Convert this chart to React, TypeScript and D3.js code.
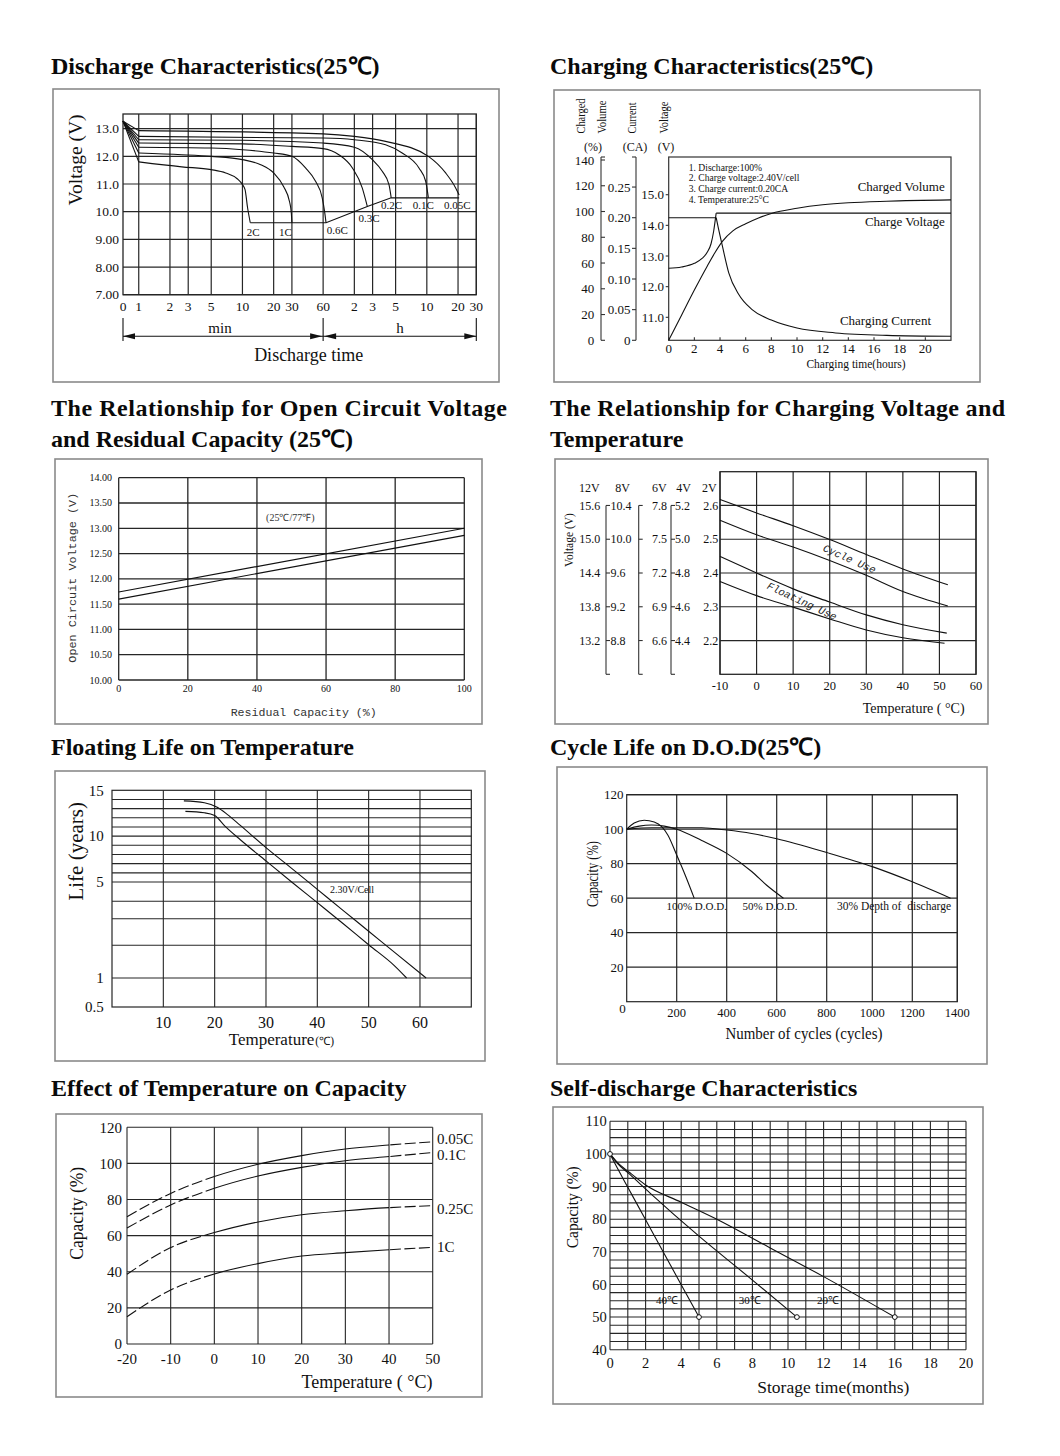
import React from 'react';
import * as d3 from 'd3';

type Pt = [number, number];

const SERIF = '"Liberation Serif", "Times New Roman", serif';
const MONO = '"Liberation Mono", "DejaVu Sans Mono", monospace';
const INK = '#111';
const GRID = '#262626';
const FRAME = '#8a8a8a';
const CURVE = '#111';

// ---------------- Titles ----------------
const titleDischarge = 'Discharge Characteristics(25℃)';
const titleCharging = 'Charging Characteristics(25℃)';
const titleOcv = ['The Relationship for Open Circuit Voltage', 'and Residual Capacity (25℃)'];
const titleChargeVolt = ['The Relationship for Charging Voltage and', 'Temperature'];
const titleFloat = 'Floating Life on Temperature';
const titleCycle = 'Cycle Life on D.O.D(25℃)';
const titleTempCap = 'Effect of Temperature on Capacity';
const titleSelf = 'Self-discharge Characteristics';

// ---------------- 1. Discharge ----------------
const dischargeTickMinutes = [0, 1, 2, 3, 5, 10, 20, 30, 60, 120, 180, 300, 600, 1200, 1800];
const dischargeTickLabels = ['0', '1', '2', '3', '5', '10', '20', '30', '60', '2', '3', '5', '10', '20', '30'];
const dischargeVoltTicks = [13, 12, 11, 10, 9, 8, 7];
const dischargeVoltLabels = ['13.0', '12.0', '11.0', '10.0', '9.00', '8.00', '7.00'];
const dischargeRates = ['2C', '1C', '0.6C', '0.3C', '0.2C', '0.1C', '0.05C'];
const discharge2C: Pt[] = [[0, 13.27], [1, 11.8], [2.6, 11.62], [5, 11.52], [6.9, 11.4], [8.9, 11.19], [10, 10.98], [10.6, 10.8], [11.2, 10.15], [11.9, 9.6]];
const discharge1C: Pt[] = [[0, 13.27], [1, 12.12], [2.6, 12.06], [5, 12.0], [10, 11.88], [15, 11.7], [20, 11.4], [25, 10.9], [28.5, 10.35], [29.6, 9.95], [30, 9.6]];
const discharge06C: Pt[] = [[0, 13.27], [1, 12.33], [5, 12.3], [10, 12.24], [20, 12.12], [30, 12.0], [40.6, 11.58], [50.7, 11.1], [58.8, 10.5], [62, 10.0], [64, 9.6]];
const discharge03C: Pt[] = [[0, 13.27], [1, 12.48], [10, 12.45], [30, 12.36], [60, 12.28], [85, 12.06], [115, 11.58], [143, 10.86], [160, 10.19]];
const discharge02C: Pt[] = [[0, 13.27], [1, 12.6], [10, 12.58], [60, 12.48], [120, 12.33], [179, 11.88], [223, 11.46], [259, 10.98], [272, 10.5]];
const discharge01C: Pt[] = [[0, 13.27], [1, 12.72], [60, 12.66], [120, 12.6], [240, 12.42], [347, 12.12], [504, 11.58], [585, 11.1], [621, 10.5]];
const discharge005C: Pt[] = [[0, 13.27], [1, 12.93], [60, 12.81], [120, 12.72], [240, 12.54], [621, 12.0], [911, 11.4], [1138, 10.86], [1230, 10.6]];
const dischargeEndLine: Pt[] = [[11.9, 9.6], [64, 9.6], [160, 10.19], [272, 10.5], [1230, 10.5]];

// ---------------- 2. Charging ----------------
const chargeHeaders = ['Charged', 'Volume', 'Current', 'Voltage'];
const chargeUnits = ['(%)', '(CA)', '(V)'];
const chargeHourTicks = [0, 2, 4, 6, 8, 10, 12, 14, 16, 18, 20];
const chargePctTicks = [0, 20, 40, 60, 80, 100, 120, 140];
const chargeCATicks = [0, 0.05, 0.1, 0.15, 0.2, 0.25];
const chargeCALabels = ['0', '0.05', '0.10', '0.15', '0.20', '0.25'];
const chargeVTicks = [11, 12, 13, 14, 15];
const chargeVLabels = ['11.0', '12.0', '13.0', '14.0', '15.0'];
const chargeNotes = ['1. Discharge:100%', '2. Charge voltage:2.40V/cell', '3. Charge current:0.20CA', '4. Temperature:25°C'];
const chargeSeriesNames = ['Charged Volume', 'Charge Voltage', 'Charging Current'];
const chargeVoltageRise: Pt[] = [[0, 12.6], [1, 12.64], [2, 12.76], [2.6, 12.92], [3, 13.12], [3.3, 13.4], [3.5, 13.8], [3.7, 14.4]];
const chargeVoltageHold: Pt[] = [[3.7, 14.4], [22, 14.4]];
const chargeCurrentHold: Pt[] = [[0, 0.2], [3.7, 0.2]];
const chargeCurrentDecay: Pt[] = [[3.7, 0.2], [3.85, 0.185], [4.16, 0.156], [4.68, 0.11], [5.45, 0.075], [6.5, 0.05], [8, 0.033], [10, 0.02], [13, 0.012], [17, 0.008], [22, 0.0065]];
const chargedVolume: Pt[] = [[0, 0], [1, 19.5], [2, 39], [3, 57.5], [3.6, 68], [4.2, 77], [5, 85], [6, 90.5], [7, 95], [8, 98.5], [10, 102.5], [12, 105.2], [14, 106.8], [17, 108], [22, 109]];

// ---------------- 3. Open circuit voltage ----------------
const ocvCapTicks = [0, 20, 40, 60, 80, 100];
const ocvVoltTicks = [10, 10.5, 11, 11.5, 12, 12.5, 13, 13.5, 14];
const ocvVoltLabels = ['10.00', '10.50', '11.00', '11.50', '12.00', '12.50', '13.00', '13.50', '14.00'];
const ocvUpper: Pt[] = [[0, 11.74], [100, 13.0]];
const ocvLower: Pt[] = [[0, 11.6], [100, 12.86]];

// ---------------- 4. Charging voltage vs temperature ----------------
const cvTempTicks = [-10, 0, 10, 20, 30, 40, 50, 60];
const cvCellTicks = [2.6, 2.5, 2.4, 2.3, 2.2];
const cvHeaders = ['12V', '8V', '6V', '4V', '2V'];
const cvLabels12 = ['15.6', '15.0', '14.4', '13.8', '13.2'];
const cvLabels8 = ['10.4', '10.0', '9.6', '9.2', '8.8'];
const cvLabels6 = ['7.8', '7.5', '7.2', '6.9', '6.6'];
const cvLabels4 = ['5.2', '5.0', '4.8', '4.6', '4.4'];
const cvLabels2 = ['2.6', '2.5', '2.4', '2.3', '2.2'];
const cycleUseUpper: Pt[] = [[-10, 2.618], [0, 2.578], [10, 2.54], [20, 2.499], [30, 2.455], [40, 2.412], [52.3, 2.365]];
const cycleUseLower: Pt[] = [[-10, 2.556], [0, 2.513], [10, 2.477], [20, 2.437], [30, 2.393], [40, 2.345], [52.3, 2.302]];
const floatUseUpper: Pt[] = [[-10, 2.449], [0, 2.4], [10, 2.353], [20, 2.314], [30, 2.276], [40, 2.247], [52, 2.222]];
const floatUseLower: Pt[] = [[-10, 2.375], [0, 2.333], [10, 2.299], [20, 2.264], [30, 2.231], [40, 2.208], [51.4, 2.192]];

// ---------------- 5. Floating life ----------------
const lifeTempTicks = [10, 20, 30, 40, 50, 60];
const lifeYearGrid = [1, 2, 3, 4, 5, 6, 7, 8, 9, 10, 11, 12, 13, 14];
const lifeYearLabels = [15, 10, 5, 1, 0.5];
const lifeUpper: Pt[] = [[14, 13.85], [18, 13.65], [20.5, 13.15], [22.5, 12.35], [25, 11.17], [30, 8.75], [35, 6.49], [40, 4.62], [45, 3.48], [50, 2.53], [55, 1.79], [61.2, 1.0]];
const lifeLower: Pt[] = [[14.3, 12.7], [18, 12.55], [20, 12.25], [22, 11.1], [25, 9.61], [30, 7.3], [35, 5.0], [40, 3.92], [45, 2.82], [50, 2.02], [55, 1.38], [57.4, 1.0]];

// ---------------- 6. Cycle life ----------------
const cycleTicks = [200, 400, 600, 800, 1000, 1200, 1400];
const cycleCapTicks = [20, 40, 60, 80, 100, 120];
const cycleSeriesNames = ['100% D.O.D.', '50% D.O.D.', '30% Depth of  discharge'];
const dod100: Pt[] = [[0, 100], [30, 103.6], [70, 105.2], [110, 104.2], [140, 101.5], [165, 96.5], [200, 85], [235, 73], [270, 60]];
const dod50: Pt[] = [[0, 100], [50, 101.8], [100, 102.4], [150, 101.8], [200, 100], [300, 93.5], [400, 86], [500, 75.5], [560, 67.5], [627, 60]];
const dod30: Pt[] = [[0, 100], [100, 100.8], [300, 100.8], [400, 99.5], [500, 97.5], [600, 94.5], [800, 86.5], [1000, 78.3], [1200, 69.5], [1370, 60]];

// ---------------- 7. Temperature vs capacity ----------------
const tcTempTicks = [-20, -10, 0, 10, 20, 30, 40, 50];
const tcCapTicks = [0, 20, 40, 60, 80, 100, 120];
const tcRates = ['0.05C', '0.1C', '0.25C', '1C'];
const tc005C: Pt[] = [[-20, 70.5], [-10, 83.4], [0, 92.7], [10, 99.5], [20, 104.3], [30, 108], [40, 110.2], [50, 112]];
const tc01C: Pt[] = [[-20, 64.2], [-10, 77], [0, 86.2], [10, 93], [20, 97.8], [30, 101.5], [40, 103.8], [50, 106]];
const tc025C: Pt[] = [[-20, 38.6], [-10, 53.4], [0, 61.7], [10, 67.6], [20, 71.6], [30, 73.8], [40, 75.5], [50, 76.6]];
const tc1C: Pt[] = [[-20, 15.1], [-10, 29.9], [0, 38.8], [10, 44.5], [20, 48.7], [30, 50.6], [40, 52.2], [50, 53.5]];

// ---------------- 8. Self-discharge ----------------
const selfMonthTicks = [0, 2, 4, 6, 8, 10, 12, 14, 16, 18, 20];
const selfCapTicks = [40, 50, 60, 70, 80, 90, 100, 110];
const selfTemps = ['40℃', '30℃', '20℃'];
const self40: Pt[] = [[0, 100], [0.3, 96.8], [1, 89.8], [2, 79.8], [3, 69.9], [4, 59.9], [5, 50]];
const self30: Pt[] = [[0, 100], [0.4, 97.2], [1.1, 93.8], [2.25, 88], [5, 74.8], [7.9, 61.8], [10.5, 50]];
const self20: Pt[] = [[0, 100], [0.4, 97.5], [1.1, 94.3], [2, 90.5], [4, 85.2], [6, 80], [9, 71.2], [12, 62.4], [16, 50]];

// ---------------- helpers ----------------
const T = (p: any) => <text fontFamily={SERIF} fill={INK} {...p} />;

const RText = ({ x, y, size, children, family = SERIF, len, fill = INK }: any) => (
  <text
    transform={`translate(${x},${y}) rotate(-90)`}
    textAnchor="middle"
    dy="0.35em"
    fontFamily={family}
    fontSize={size}
    fill={fill}
    textLength={len}
    lengthAdjust={len ? 'spacingAndGlyphs' : undefined}
  >
    {children}
  </text>
);

const Frame = ({ x1, y1, x2, y2 }: any) => (
  <rect x={x1} y={y1} width={x2 - x1} height={y2 - y1} fill="none" stroke={FRAME} strokeWidth={1.6} />
);

const HLine = ({ y, x1, x2, w = 1.2, c = GRID }: any) => <line x1={x1} x2={x2} y1={y} y2={y} stroke={c} strokeWidth={w} />;
const VLine = ({ x, y1, y2, w = 1.2, c = GRID }: any) => <line x1={x} x2={x} y1={y1} y2={y2} stroke={c} strokeWidth={w} />;

function mkLine(X: any, Y: any, curve: any = d3.curveLinear) {
  return d3.line<Pt>().x((d) => X(d[0])).y((d) => Y(d[1])).curve(curve);
}

// ---------------- Titles ----------------
function Titles() {
  const st = { fontFamily: SERIF, fontWeight: 700, fontSize: 24, fill: '#0a0a0a' } as any;
  return (
    <g>
      <text x={51} y={74} {...st}>{titleDischarge}</text>
      <text x={550} y={74} {...st}>{titleCharging}</text>
      <text x={51} y={416} {...st} textLength={456} lengthAdjust="spacing">{titleOcv[0]}</text>
      <text x={51} y={447} {...st}>{titleOcv[1]}</text>
      <text x={550} y={416} {...st} textLength={455} lengthAdjust="spacing">{titleChargeVolt[0]}</text>
      <text x={550} y={447} {...st}>{titleChargeVolt[1]}</text>
      <text x={51} y={755} {...st}>{titleFloat}</text>
      <text x={550} y={755} {...st}>{titleCycle}</text>
      <text x={51} y={1096} {...st}>{titleTempCap}</text>
      <text x={550} y={1096} {...st}>{titleSelf}</text>
    </g>
  );
}

// ---------------- Panel 1 ----------------
function Discharge() {
  const L = 123, R = 476.3, TOP = 114, B = 294.7;
  const xs = d3.scaleLog().domain([0.705, 1800]).range([L, R]);
  const X = (t: number) => xs(Math.max(t, 0.705));
  const Y = d3.scaleLinear().domain([7, 13.53]).range([B, TOP]);
  const curved = mkLine(X, Y, d3.curveMonotoneX);
  const straight = mkLine(X, Y);
  const series = [discharge2C, discharge1C, discharge06C, discharge03C, discharge02C, discharge01C, discharge005C];
  const labelAt: Pt[] = [[12.7, 9.27], [26, 9.27], [82, 9.35], [166, 9.77], [274, 10.23], [555, 10.23], [1181, 10.23]];
  const xm = X(60);
  const ay = 336.3;
  return (
    <g>
      <Frame x1={53} y1={89} x2={499} y2={382} />
      {dischargeVoltTicks.map((v) => <HLine key={v} y={Y(v)} x1={L} x2={R} />)}
      {dischargeTickMinutes.filter((t) => t > 0).map((t) => <VLine key={t} x={X(t)} y1={TOP} y2={B} />)}
      <rect x={L} y={TOP} width={R - L} height={B - TOP} fill="none" stroke={GRID} strokeWidth={1.3} />
      {series.map((s, i) => (
        <g key={i} fill="none" stroke={CURVE} strokeWidth={1.1}>
          <path d={straight(s.slice(0, 2)) as string} />
          <path d={curved(s.slice(1)) as string} />
        </g>
      ))}
      <path d={straight(dischargeEndLine) as string} fill="none" stroke={CURVE} strokeWidth={1.1} />
      {dischargeRates.map((r, i) => (
        <T key={r} x={X(labelAt[i][0])} y={Y(labelAt[i][1])} dy="0.35em" textAnchor="middle" fontSize={11}>{r}</T>
      ))}
      {dischargeVoltTicks.map((v, i) => (
        <T key={v} x={119} y={Y(v)} dy="0.35em" textAnchor="end" fontSize={13.5}>{dischargeVoltLabels[i]}</T>
      ))}
      {dischargeTickMinutes.map((t, i) => (
        <T key={t} x={X(t)} y={311} textAnchor="middle" fontSize={13.5}>{dischargeTickLabels[i]}</T>
      ))}
      <RText x={75} y={160} size={19.5}>Voltage (V)</RText>
      <T x={220} y={333} textAnchor="middle" fontSize={15}>min</T>
      <T x={400} y={333} textAnchor="middle" fontSize={15}>h</T>
      <g stroke={INK} strokeWidth={1.1}>
        <line x1={L} x2={R} y1={ay} y2={ay} />
        <line x1={L} x2={L} y1={318} y2={341} />
        <line x1={xm} x2={xm} y1={318} y2={341} />
        <line x1={R} x2={R} y1={318} y2={341} />
      </g>
      <g fill={INK}>
        <polygon points={`${L},${ay} ${L + 12},${ay - 3} ${L + 12},${ay + 3}`} />
        <polygon points={`${xm - 1},${ay} ${xm - 13},${ay - 3} ${xm - 13},${ay + 3}`} />
        <polygon points={`${xm + 1},${ay} ${xm + 13},${ay - 3} ${xm + 13},${ay + 3}`} />
        <polygon points={`${R},${ay} ${R - 12},${ay - 3} ${R - 12},${ay + 3}`} />
      </g>
      <T x={308.7} y={361} textAnchor="middle" fontSize={18}>Discharge time</T>
    </g>
  );
}

// ---------------- Panel 2 ----------------
function Charging() {
  const L = 668.7, R = 951, TOP = 157, B = 340.3;
  const X = d3.scaleLinear().domain([0, 22]).range([L, R]);
  const YV = d3.scaleLinear().domain([10.25, 16.23]).range([B, TOP]);
  const YA = d3.scaleLinear().domain([0, 0.3]).range([B, 156.4]);
  const YP = d3.scaleLinear().domain([0, 140]).range([B, 160]);
  const vC = mkLine(X, YV, d3.curveMonotoneX);
  const vS = mkLine(X, YV);
  const aC = mkLine(X, YA, d3.curveMonotoneX);
  const aS = mkLine(X, YA);
  const pC = mkLine(X, YP, d3.curveMonotoneX);
  const headerX = [580.5, 602, 632, 663.7];
  const headerLen = [35, 33, 31, 32];
  const unitX = [593, 635, 666];
  const pAx = 601, aAx = 636;
  return (
    <g>
      <Frame x1={554} y1={90} x2={980} y2={382} />
      <rect x={L} y={TOP} width={R - L} height={B - TOP} fill="none" stroke="#333" strokeWidth={1.2} />
      {chargeHeaders.map((h, i) => (
        <text key={h} transform={`translate(${headerX[i]},133.5) rotate(-90)`} dy="0.35em" fontFamily={SERIF} fontSize={12.5} fill={INK} textLength={headerLen[i]} lengthAdjust="spacingAndGlyphs">{h}</text>
      ))}
      {chargeUnits.map((u, i) => (
        <T key={u} x={unitX[i]} y={150.5} textAnchor="middle" fontSize={12}>{u}</T>
      ))}
      <g stroke="#333" strokeWidth={1.1}>
        <line x1={pAx} x2={pAx} y1={TOP} y2={B} />
        <line x1={pAx} x2={pAx + 4} y1={TOP} y2={TOP} />
        {chargePctTicks.map((p) => <line key={p} x1={pAx} x2={pAx + 4} y1={YP(p)} y2={YP(p)} />)}
        <line x1={aAx} x2={aAx} y1={TOP} y2={B} />
        <line x1={aAx - 4} x2={aAx} y1={TOP} y2={TOP} />
        {chargeCATicks.map((a) => <line key={a} x1={aAx - 4} x2={aAx} y1={YA(a)} y2={YA(a)} />)}
        {chargeVTicks.map((v) => <line key={v} x1={L - 3} x2={L} y1={YV(v)} y2={YV(v)} />)}
        {chargeHourTicks.map((h) => <line key={h} x1={X(h)} x2={X(h)} y1={B} y2={B - 3} />)}
      </g>
      {chargePctTicks.map((p) => (
        <T key={p} x={594.3} y={YP(p)} dy="0.35em" textAnchor="end" fontSize={13}>{p}</T>
      ))}
      {chargeCATicks.map((a, i) => (
        <T key={a} x={630.5} y={YA(a)} dy="0.35em" textAnchor="end" fontSize={13}>{chargeCALabels[i]}</T>
      ))}
      {chargeVTicks.map((v, i) => (
        <T key={v} x={664} y={YV(v)} dy="0.35em" textAnchor="end" fontSize={13}>{chargeVLabels[i]}</T>
      ))}
      {chargeHourTicks.map((h) => (
        <T key={h} x={X(h)} y={352.5} textAnchor="middle" fontSize={13}>{h}</T>
      ))}
      <T x={856} y={368} textAnchor="middle" fontSize={11.5}>Charging time(hours)</T>
      {chargeNotes.map((n, i) => (
        <T key={n} x={688.7} y={170.6 + i * 10.7} fontSize={9.6}>{n}</T>
      ))}
      <g fill="none" stroke={CURVE} strokeWidth={1.1}>
        <path d={vC(chargeVoltageRise) as string} />
        <path d={vS(chargeVoltageHold) as string} />
        <path d={aS(chargeCurrentHold) as string} />
        <path d={aC(chargeCurrentDecay) as string} />
        <path d={pC(chargedVolume) as string} />
      </g>
      <T x={944.7} y={190.5} textAnchor="end" fontSize={13}>{chargeSeriesNames[0]}</T>
      <T x={944.7} y={225.5} textAnchor="end" fontSize={13}>{chargeSeriesNames[1]}</T>
      <T x={931} y={324.5} textAnchor="end" fontSize={13}>{chargeSeriesNames[2]}</T>
    </g>
  );
}

// ---------------- Panel 3 ----------------
function OpenCircuit() {
  const L = 118.7, R = 464.3, TOP = 477.7, B = 680;
  const X = d3.scaleLinear().domain([0, 100]).range([L, R]);
  const Y = d3.scaleLinear().domain([10, 14]).range([B, TOP]);
  const ln = mkLine(X, Y);
  return (
    <g>
      <Frame x1={55} y1={459} x2={482} y2={724} />
      {ocvVoltTicks.map((v) => <HLine key={v} y={Y(v)} x1={L} x2={R} w={1.3} />)}
      {ocvCapTicks.map((c) => <VLine key={c} x={X(c)} y1={TOP} y2={B} w={1.3} />)}
      <g fill="none" stroke={CURVE} strokeWidth={1.2}>
        <path d={ln(ocvUpper) as string} />
        <path d={ln(ocvLower) as string} />
      </g>
      {ocvVoltTicks.map((v, i) => (
        <T key={v} x={112} y={Y(v)} dy="0.35em" textAnchor="end" fontSize={10}>{ocvVoltLabels[i]}</T>
      ))}
      {ocvCapTicks.map((c) => (
        <T key={c} x={X(c)} y={692} textAnchor="middle" fontSize={10}>{c}</T>
      ))}
      <T x={290.3} y={521} textAnchor="middle" fontSize={10} fill="#333">(25℃/77℉)</T>
      <text x={303.7} y={716} textAnchor="middle" fontFamily={MONO} fontSize={11.6} fill="#333">Residual Capacity (%)</text>
      <RText x={72} y={577.7} size={11.8} family={MONO} fill="#333">Open Circuit Voltage (V)</RText>
    </g>
  );
}

// ---------------- Panel 4 ----------------
function ChargeVoltTemp() {
  const L = 720, R = 976, TOP = 471.7, B = 674.3;
  const X = d3.scaleLinear().domain([-10, 60]).range([L, R]);
  const Y = d3.scaleLinear().domain([2.1, 2.7]).range([B, TOP]);
  const ln = mkLine(X, Y, d3.curveMonotoneX);
  const bracket = (x: number, key: string) => (
    <g key={key} stroke="#333" strokeWidth={1.1}>
      <line x1={x} x2={x} y1={Y(2.6)} y2={B} />
      <line x1={x} x2={x + 4} y1={B} y2={B} />
      {cvCellTicks.map((v) => <line key={v} x1={x} x2={x + 4} y1={Y(v)} y2={Y(v)} />)}
    </g>
  );
  const headerX = [589.3, 622.7, 659.3, 683.7, 709.3];
  return (
    <g>
      <Frame x1={555} y1={459} x2={988} y2={724} />
      {[2.2, 2.3, 2.4, 2.5, 2.6].map((v) => <HLine key={v} y={Y(v)} x1={L} x2={R} />)}
      {cvTempTicks.map((t) => <VLine key={t} x={X(t)} y1={TOP} y2={B} />)}
      <rect x={L} y={TOP} width={R - L} height={B - TOP} fill="none" stroke={GRID} strokeWidth={1.3} />
      <g fill="none" stroke={CURVE} strokeWidth={1.1}>
        <path d={ln(cycleUseUpper) as string} />
        <path d={ln(cycleUseLower) as string} />
        <path d={ln(floatUseUpper) as string} />
        <path d={ln(floatUseLower) as string} />
      </g>
      <text transform="translate(849.7,558.7) rotate(24)" textAnchor="middle" dy="0.35em" fontFamily={MONO} fontStyle="italic" fontSize={10.5} fill="#222">Cycle Use</text>
      <text transform="translate(802,601) rotate(25)" textAnchor="middle" dy="0.35em" fontFamily={MONO} fontStyle="italic" fontSize={10.5} fill="#222">Floating Use</text>
      {cvHeaders.map((h, i) => (
        <T key={h} x={headerX[i]} y={492} textAnchor="middle" fontSize={12}>{h}</T>
      ))}
      {bracket(606, 'b8')}
      {bracket(638.7, 'b6')}
      {bracket(671, 'b4')}
      {cvCellTicks.map((v, i) => (
        <g key={v}>
          <T x={600.3} y={Y(v)} dy="0.35em" textAnchor="end" fontSize={12}>{cvLabels12[i]}</T>
          <T x={610.5} y={Y(v)} dy="0.35em" textAnchor="start" fontSize={12}>{cvLabels8[i]}</T>
          <T x={667} y={Y(v)} dy="0.35em" textAnchor="end" fontSize={12}>{cvLabels6[i]}</T>
          <T x={675} y={Y(v)} dy="0.35em" textAnchor="start" fontSize={12}>{cvLabels4[i]}</T>
          <T x={703.3} y={Y(v)} dy="0.35em" textAnchor="start" fontSize={12}>{cvLabels2[i]}</T>
        </g>
      ))}
      {cvTempTicks.map((t) => (
        <T key={t} x={X(t)} y={689.5} textAnchor="middle" fontSize={12.5}>{t}</T>
      ))}
      <T x={913.7} y={712.5} textAnchor="middle" fontSize={14}>Temperature ( °C)</T>
      <RText x={569.3} y={540} size={11.5}>Voltage (V)</RText>
    </g>
  );
}

// ---------------- Panel 5 ----------------
function FloatingLife() {
  const L = 112, R = 471.3, TOP = 790.3, B = 1007;
  const X = d3.scaleLinear().domain([0, 70]).range([L, R]);
  const Y = d3.scaleLinear().domain([0.5, 1, 2, 3, 4, 5, 15]).range([B, 978, 945.3, 918.7, 901.3, 882, TOP]);
  const ln = mkLine(X, Y, d3.curveMonotoneX);
  return (
    <g>
      <Frame x1={55} y1={771} x2={485} y2={1061} />
      {lifeYearGrid.map((v) => <HLine key={v} y={Y(v)} x1={L} x2={R} w={1.1} />)}
      {lifeTempTicks.map((t) => <VLine key={t} x={X(t)} y1={TOP} y2={B} w={1.1} />)}
      <rect x={L} y={TOP} width={R - L} height={B - TOP} fill="none" stroke={GRID} strokeWidth={1.2} />
      <g fill="none" stroke={CURVE} strokeWidth={1.1}>
        <path d={ln(lifeUpper) as string} />
        <path d={ln(lifeLower) as string} />
      </g>
      <T x={352} y={893} textAnchor="middle" fontSize={10}>2.30V/Cell</T>
      {lifeYearLabels.map((v) => (
        <T key={v} x={103.7} y={Y(v)} dy="0.35em" textAnchor="end" fontSize={15}>{v}</T>
      ))}
      {lifeTempTicks.map((t) => (
        <T key={t} x={X(t)} y={1028} textAnchor="middle" fontSize={16}>{t}</T>
      ))}
      <T x={228.7} y={1045} fontSize={17}>Temperature<tspan fontSize={11.5} dx={1}>(℃)</tspan></T>
      <RText x={75.3} y={851.3} size={21}>Life (years)</RText>
    </g>
  );
}

// ---------------- Panel 6 ----------------
function CycleLife() {
  const L = 626.7, R = 957.3, TOP = 794.7, B = 1001.7;
  const X = d3.scaleLinear().domain([0, 200, 400, 600, 800, 1000, 1200, 1400]).range([L, 676.7, 726.7, 776.7, 826.7, 872.3, 912.3, R]);
  const Y = d3.scaleLinear().domain([0, 120]).range([B, TOP]);
  const ln = mkLine(X, Y, d3.curveMonotoneX);
  return (
    <g>
      <Frame x1={557} y1={767} x2={987} y2={1064} />
      {cycleCapTicks.map((v) => <HLine key={v} y={Y(v)} x1={L} x2={R} w={1.2} />)}
      {cycleTicks.map((c) => <VLine key={c} x={X(c)} y1={TOP} y2={B} w={1.2} />)}
      <rect x={L} y={TOP} width={R - L} height={B - TOP} fill="none" stroke={GRID} strokeWidth={1.2} />
      <g fill="none" stroke={CURVE} strokeWidth={1.1}>
        <path d={ln(dod100) as string} />
        <path d={ln(dod50) as string} />
        <path d={ln(dod30) as string} />
      </g>
      <T x={696.7} y={910} textAnchor="middle" fontSize={11}>{cycleSeriesNames[0]}</T>
      <T x={770} y={910} textAnchor="middle" fontSize={11}>{cycleSeriesNames[1]}</T>
      <T x={894} y={910} textAnchor="middle" fontSize={11.5} style={{ whiteSpace: 'pre' }}>{cycleSeriesNames[2]}</T>
      {cycleCapTicks.map((v) => (
        <T key={v} x={623.5} y={Y(v)} dy="0.35em" textAnchor="end" fontSize={13}>{v}</T>
      ))}
      <T x={622.5} y={1013} textAnchor="middle" fontSize={13}>0</T>
      {cycleTicks.map((c) => (
        <T key={c} x={X(c)} y={1017} textAnchor="middle" fontSize={12.5}>{c}</T>
      ))}
      <T x={804} y={1039} textAnchor="middle" fontSize={17} textLength={157} lengthAdjust="spacingAndGlyphs">Number of cycles (cycles)</T>
      <RText x={592.3} y={874} size={16} len={66}>Capacity (%)</RText>
    </g>
  );
}

// ---------------- Panel 7 ----------------
function TempCapacity() {
  const L = 127, R = 432.7, TOP = 1127.3, B = 1344;
  const X = d3.scaleLinear().domain([-20, 50]).range([L, R]);
  const Y = d3.scaleLinear().domain([0, 120]).range([B, TOP]);
  const ln = mkLine(X, Y, d3.curveMonotoneX);
  const series = [tc005C, tc01C, tc025C, tc1C];
  const labelY = [1138.3, 1155, 1209, 1246.7];
  const x0 = X(0), x40 = X(40);
  return (
    <g>
      <defs>
        <clipPath id="tc-dash">
          <rect x={L - 5} y={TOP - 20} width={x0 - L + 5} height={B - TOP + 30} />
          <rect x={x40} y={TOP - 20} width={R - x40 + 10} height={B - TOP + 30} />
        </clipPath>
        <clipPath id="tc-solid">
          <rect x={x0} y={TOP - 20} width={x40 - x0} height={B - TOP + 30} />
        </clipPath>
      </defs>
      <Frame x1={56} y1={1114} x2={482} y2={1397} />
      {tcCapTicks.map((v) => <HLine key={v} y={Y(v)} x1={L} x2={R} w={1.1} />)}
      {tcTempTicks.map((t) => <VLine key={t} x={X(t)} y1={TOP} y2={B} w={1.1} />)}
      <g fill="none" stroke={CURVE} strokeWidth={1.1}>
        {series.map((s, i) => (
          <g key={i}>
            <path d={ln(s) as string} clipPath="url(#tc-solid)" />
            <path d={ln(s) as string} clipPath="url(#tc-dash)" strokeDasharray="11 3.5" />
          </g>
        ))}
      </g>
      {tcRates.map((r, i) => (
        <T key={r} x={437} y={labelY[i]} dy="0.35em" fontSize={15}>{r}</T>
      ))}
      {tcCapTicks.map((v) => (
        <T key={v} x={122} y={Y(v)} dy="0.35em" textAnchor="end" fontSize={15}>{v}</T>
      ))}
      {tcTempTicks.map((t) => (
        <T key={t} x={X(t)} y={1363.5} textAnchor="middle" fontSize={15}>{t}</T>
      ))}
      <T x={367} y={1388} textAnchor="middle" fontSize={18}>Temperature ( °C)</T>
      <RText x={77} y={1213.3} size={18} len={93}>Capacity (%)</RText>
    </g>
  );
}

// ---------------- Panel 8 ----------------
function SelfDischarge() {
  const L = 610, R = 966, TOP = 1121.3, B = 1349.7;
  const X = d3.scaleLinear().domain([0, 20]).range([L, R]);
  const Y = d3.scaleLinear().domain([40, 110]).range([B, TOP]);
  const ln = mkLine(X, Y, d3.curveMonotoneX);
  const series = [self40, self30, self20];
  const labelAt: Pt[] = [[3.2, 55.3], [7.85, 55.3], [12.25, 55.3]];
  return (
    <g>
      <Frame x1={553} y1={1107} x2={983} y2={1404} />
      {d3.range(40, 110.01, 2.5).map((v) => <HLine key={v} y={Y(v)} x1={L} x2={R} w={1.1} />)}
      {d3.range(0, 20.01, 1).map((m) => <VLine key={m} x={X(m)} y1={TOP} y2={B} w={1.1} />)}
      <g fill="none" stroke={CURVE} strokeWidth={1.1}>
        {series.map((s, i) => <path key={i} d={ln(s) as string} />)}
      </g>
      <g fill="#fff" stroke={CURVE} strokeWidth={1}>
        <circle cx={X(self40[0][0])} cy={Y(self40[0][1])} r={2.4} />
        {series.map((s, i) => (
          <circle key={i} cx={X(s[s.length - 1][0])} cy={Y(s[s.length - 1][1])} r={2.4} />
        ))}
      </g>
      {selfTemps.map((t, i) => (
        <T key={t} x={X(labelAt[i][0])} y={Y(labelAt[i][1])} dy="0.35em" textAnchor="middle" fontSize={11}>{t}</T>
      ))}
      {selfCapTicks.map((v) => (
        <T key={v} x={606.7} y={Y(v)} dy="0.35em" textAnchor="end" fontSize={14.5}>{v}</T>
      ))}
      {selfMonthTicks.map((m) => (
        <T key={m} x={X(m)} y={1367.5} textAnchor="middle" fontSize={14.5}>{m}</T>
      ))}
      <T x={833.3} y={1392.5} textAnchor="middle" fontSize={17.5}>Storage time(months)</T>
      <RText x={571.7} y={1207.3} size={17} len={82}>Capacity (%)</RText>
    </g>
  );
}

export default function App() {
  return (
    <svg
      width={1060}
      height={1456}
      viewBox="0 0 1060 1456"
      style={{ position: 'absolute', left: 0, top: 0, display: 'block' }}
      xmlns="http://www.w3.org/2000/svg"
    >
      <rect width={1060} height={1456} fill="#fff" />
      <Titles />
      <Discharge />
      <Charging />
      <OpenCircuit />
      <ChargeVoltTemp />
      <FloatingLife />
      <CycleLife />
      <TempCapacity />
      <SelfDischarge />
    </svg>
  );
}
